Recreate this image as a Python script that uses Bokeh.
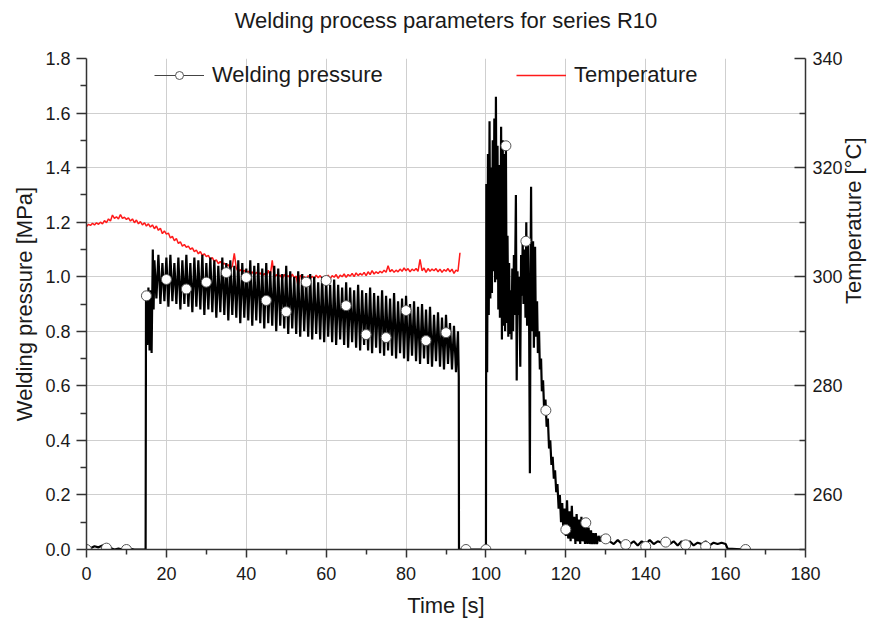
import math
from bokeh.plotting import figure
from bokeh.models import Range1d, LinearAxis, FixedTicker, Legend, LegendItem, NumeralTickFormatter, Title
from bokeh.embed import file_html
from bokeh.resources import INLINE

# ---------------- data ----------------
# Welding pressure [MPa]: start of trace (before clamping)
pre_t = [0, 1, 2, 3, 4, 5, 6, 7, 8, 9, 10, 11, 12, 13, 14, 14.8,
         14.9, 15.2, 15.5, 15.8, 16.1, 16.3, 16.6, 16.8]
pre_v = [0.0, 0.005, 0.012, 0.008, 0.015, 0.01, 0.005, 0.0, 0.003, 0.0, 0.0, 0.002, 0.0, 0.0, 0.0, 0.0,
         0.93, 0.75, 0.96, 0.73, 0.95, 0.72, 1.10, 0.88]

# oscillating band during welding: upper / lower swing every second (17..92 s)
band_t = list(range(17, 93))
band_hi = [1.06, 1.08, 1.05, 1.07, 1.08, 1.05, 1.07, 1.06, 1.08, 1.05, 1.07, 1.06, 1.08, 1.05, 1.07, 1.06,
           1.04, 1.07, 1.05, 1.06, 1.04, 1.06, 1.05, 1.03, 1.06, 1.04, 1.05, 1.03, 1.05, 1.02, 1.04, 1.03,
           1.01, 1.04, 1.02, 1.00, 1.02, 1.01, 0.99, 1.01, 1.00, 0.98, 1.00, 0.99, 0.97, 0.99, 0.97, 0.96,
           0.98, 0.96, 0.95, 0.97, 0.95, 0.94, 0.96, 0.94, 0.93, 0.95, 0.93, 0.92, 0.94, 0.91, 0.92, 0.93,
           0.90, 0.91, 0.89, 0.90, 0.88, 0.89, 0.86, 0.87, 0.85, 0.86, 0.83, 0.82]
band_lo = [0.92, 0.90, 0.91, 0.89, 0.91, 0.90, 0.88, 0.90, 0.89, 0.87, 0.89, 0.88, 0.86, 0.88, 0.87, 0.85,
           0.87, 0.86, 0.84, 0.86, 0.85, 0.83, 0.85, 0.84, 0.82, 0.84, 0.83, 0.81, 0.83, 0.82, 0.80, 0.82,
           0.81, 0.79, 0.81, 0.79, 0.78, 0.80, 0.78, 0.77, 0.79, 0.77, 0.76, 0.78, 0.76, 0.75, 0.77, 0.75,
           0.74, 0.76, 0.74, 0.73, 0.75, 0.73, 0.72, 0.74, 0.72, 0.71, 0.73, 0.71, 0.70, 0.72, 0.70, 0.69,
           0.71, 0.69, 0.68, 0.70, 0.68, 0.67, 0.69, 0.67, 0.66, 0.68, 0.66, 0.65]

# release, pause, and second (forging / cooling) phase
post_t = [93.0, 93.2, 93.25, 95, 99.9,
          100.0, 100.1, 100.3, 100.5, 100.7, 100.9, 101.1, 101.3, 101.5, 101.7, 101.9, 102.1, 102.3, 102.5,
          102.7, 102.9, 103.1, 103.3, 103.5, 103.8, 104.0, 104.2, 104.4, 104.6, 104.8, 105.0, 105.2, 105.4,
          105.6, 105.8, 106.0, 106.2, 106.4, 106.6, 106.8, 107.0, 107.2, 107.5, 107.7, 107.9, 108.1, 108.3,
          108.6, 108.8, 109.0, 109.2, 109.4, 109.7, 109.9, 110.1, 110.3, 110.5, 110.8, 111.0, 111.2, 111.3,
          111.5, 111.8, 112.0, 112.3, 112.5, 112.8, 113.0, 113.3, 113.5, 113.8, 114.0, 114.3, 114.6, 114.9,
          115.2, 115.5, 115.8, 116.1, 116.4, 116.7, 117.0, 117.3, 117.6, 117.9, 118.2, 118.5, 118.8, 119.1,
          119.4, 119.7, 120.0, 120.3, 120.6, 120.9, 121.2, 121.5, 121.8, 122.1, 122.4, 122.7, 123.0, 123.3,
          123.6, 123.9, 124.2, 124.5, 124.8, 125.1, 125.4, 125.7, 126.0, 126.3, 126.6, 126.9, 127.2, 127.5,
          127.8, 128.2, 128.6, 129.0, 129.5, 130.0, 131, 132, 133, 134, 135, 136, 137, 138, 139, 140, 141,
          142, 143, 144, 145, 146, 147, 148, 149, 150, 151, 152, 153, 154, 155, 156, 157, 158, 159, 160,
          160.5, 165]
post_v = [0.80, 0.63, 0.0, 0.0, 0.0,
          0.00, 1.34, 0.65, 1.45, 0.86, 1.57, 0.92, 1.40, 0.94, 1.50, 1.02, 1.58, 0.98, 1.66,
          0.99, 1.48, 0.88, 1.41, 0.85, 1.55, 0.77, 1.50, 0.82, 1.45, 0.80, 1.48, 0.83, 1.15,
          0.78, 1.05, 0.79, 0.95, 0.77, 1.03, 0.80, 1.08, 0.86, 1.30, 0.62, 1.02, 0.86, 1.00,
          0.67, 1.08, 0.93, 1.13, 0.90, 1.10, 0.85, 1.20, 0.82, 1.13, 0.85, 0.28, 1.10, 1.33,
          0.80, 1.13, 0.74, 1.11, 0.78, 0.91, 0.72, 0.80, 0.66, 0.70, 0.58, 0.62, 0.50, 0.55,
          0.45, 0.48, 0.37, 0.40, 0.31, 0.34, 0.26, 0.29, 0.21, 0.24, 0.15, 0.20, 0.10, 0.17,
          0.06, 0.15, 0.05, 0.18, 0.04, 0.14, 0.03, 0.16, 0.04, 0.12, 0.02, 0.13, 0.03, 0.11,
          0.02, 0.12, 0.03, 0.10, 0.02, 0.09, 0.02, 0.08, 0.02, 0.07, 0.02, 0.06, 0.02, 0.06,
          0.02, 0.05, 0.03, 0.05, 0.03, 0.04, 0.03, 0.02, 0.035, 0.02, 0.025, 0.02, 0.03, 0.015, 0.03, 0.02, 0.035,
          0.02, 0.03, 0.025, 0.035, 0.02, 0.03, 0.015, 0.03, 0.02, 0.03, 0.015, 0.025, 0.02, 0.03, 0.015, 0.025, 0.02, 0.025, 0.02,
          0.003, 0.0]

# sampled pressure markers (every 5 s)
mark_t = [0, 5, 10, 15, 20, 25, 30, 35, 40, 45, 50, 55, 60, 65, 70, 75, 80, 85, 90, 95, 100,
          105, 110, 115, 120, 125, 130, 135, 140, 145, 150, 155, 165]
mark_v = [0.0, 0.005, 0.0, 0.93, 0.99, 0.955, 0.98, 1.015, 0.997, 0.913, 0.872, 0.98, 0.986, 0.894,
          0.788, 0.777, 0.876, 0.766, 0.795, 0.0, 0.0, 1.48, 1.13, 0.51, 0.073, 0.098, 0.039, 0.018,
          0.011, 0.027, 0.017, 0.011, 0.0]

# Temperature [°C], one reading every 0.5 s from 0 to 93.5 s
temp_v = [309.2, 309.6, 309.4, 309.8, 309.5, 309.9, 309.6, 310.0, 309.7, 310.3, 309.9,
          310.6, 310.2, 311.3, 310.7, 311.0, 310.6, 311.4, 310.7, 310.9, 310.5,
          310.8, 310.2, 310.6, 309.9, 310.4, 309.7, 310.1, 309.5, 309.9, 309.3,
          309.7, 309.1, 309.5, 308.8, 309.3, 308.5, 308.9, 307.9, 308.4, 307.8,
          308.0, 307.1, 307.4, 306.6, 307.0, 306.1, 306.4, 305.6, 305.9, 305.4,
          305.6, 305.0, 305.3, 304.6, 304.9, 304.2, 304.6, 303.9, 304.2, 303.7,
          303.9, 303.2, 303.5, 302.8, 303.1, 302.4, 302.8, 302.2, 302.5, 302.0,
          302.2, 301.5, 301.9, 304.3, 301.6, 300.9, 301.3, 300.8, 301.2, 300.6,
          301.0, 300.5, 300.9, 300.3, 300.8, 300.4, 300.7, 300.1, 300.6, 300.0,
          301.2, 300.2, 303.0, 299.8, 300.4, 300.0, 300.3, 299.6, 300.4, 299.9,
          300.2, 299.7, 300.5, 299.8, 300.1, 298.2, 300.3, 299.8, 300.0, 299.4,
          300.2, 299.7, 300.1, 299.6, 300.3, 299.8, 300.2, 299.6, 300.1, 299.7,
          300.3, 299.6, 300.2, 299.9, 300.4, 299.7, 300.3, 300.0, 300.5, 299.9,
          300.4, 300.1, 300.6, 300.0, 300.7, 300.2, 300.6, 300.3, 300.8, 300.2,
          300.9, 300.4, 301.1, 300.5, 300.9, 300.6, 301.0, 300.7, 301.2, 300.8,
          302.0, 300.9, 301.3, 300.8, 301.2, 300.9, 301.4, 301.0, 301.6, 301.1,
          301.5, 300.9, 301.4, 301.1, 301.5, 301.0, 303.2, 301.1, 301.6, 300.8,
          301.5, 301.0, 301.4, 301.1, 301.5, 300.9, 301.4, 300.8, 301.3, 301.0,
          301.5, 300.9, 301.4, 300.6, 301.2, 301.0, 304.4]
temp_t = [0.5 * i for i in range(len(temp_v))]

x_ticks = [0, 20, 40, 60, 80, 100, 120, 140, 160, 180]
x_minor = [10, 30, 50, 70, 90, 110, 130, 150, 170]
yl_ticks = [0.0, 0.2, 0.4, 0.6, 0.8, 1.0, 1.2, 1.4, 1.6, 1.8]
yl_minor = [0.1, 0.3, 0.5, 0.7, 0.9, 1.1, 1.3, 1.5, 1.7]
yr_ticks = [260, 280, 300, 320, 340]
yr_minor = [250, 270, 290, 310, 330]

TITLE = "Welding process parameters for series R10"

# build pressure trace from the read values
px = list(pre_t)
py = list(pre_v)
for t, hi, lo in zip(band_t, band_hi, band_lo):
    px += [t, t + 0.5]
    py += [hi, lo]
px += post_t
py += post_v

# ---------------- figure ----------------
FONT = "Liberation Sans"
TXT = "#1a1a1a"

p = figure(width=881, height=620, output_backend="svg", toolbar_location=None,
           x_range=Range1d(0, 180), y_range=Range1d(0, 1.8),
           min_border_left=86, min_border_right=71, min_border_top=58, min_border_bottom=71,
           title=TITLE)
p.outline_line_color = None
p.background_fill_color = "white"
p.title.align = "center"
p.title.vertical_align = "bottom"
p.title.text_font = FONT
p.title.text_font_size = "22px"
p.title.text_font_style = "normal"
p.title.text_color = TXT
p.title.standoff = 10

# empty spacer between the title and the plot frame (lifts the title up)
spacer = Title(text=" ", text_font_size="1px", standoff=18)
p.add_layout(spacer, "above")

p.extra_y_ranges = {"temp": Range1d(250, 340)}

# grid
p.xgrid.ticker = FixedTicker(ticks=x_ticks)
p.ygrid.ticker = FixedTicker(ticks=yl_ticks)
for g in (p.xgrid, p.ygrid):
    g.grid_line_color = "#cfcfcf"
    g.grid_line_width = 1

# axes
xa = p.xaxis[0]
xa.ticker = FixedTicker(ticks=x_ticks, minor_ticks=x_minor)
xa.axis_label = "Time [s]"
ya = p.yaxis[0]
ya.ticker = FixedTicker(ticks=yl_ticks, minor_ticks=yl_minor)
ya.formatter = NumeralTickFormatter(format="0.0")
ya.axis_label = "Welding pressure [MPa]"

ra = LinearAxis(y_range_name="temp", axis_label="Temperature [°C]",
                ticker=FixedTicker(ticks=yr_ticks, minor_ticks=yr_minor))
p.add_layout(ra, "right")

for ax in (xa, ya, ra):
    ax.axis_line_color = "#333333"
    ax.axis_line_width = 1.5
    ax.major_tick_line_color = "#333333"
    ax.minor_tick_line_color = "#333333"
    ax.major_tick_line_width = 1.5
    ax.minor_tick_line_width = 1.5
    ax.major_label_text_font = FONT
    ax.major_label_text_font_size = "18px"
    ax.major_label_text_color = TXT
    ax.axis_label_text_font = FONT
    ax.axis_label_text_font_size = "22px"
    ax.axis_label_text_font_style = "normal"
    ax.axis_label_text_color = TXT

xa.major_tick_in = 0
xa.major_tick_out = 8
xa.minor_tick_in = 0
xa.minor_tick_out = 5
xa.major_label_standoff = 9
xa.axis_label_standoff = 10

ya.major_tick_in = 0
ya.major_tick_out = 10
ya.minor_tick_in = 0
ya.minor_tick_out = 6
ya.major_label_standoff = 6
ya.axis_label_standoff = 5

ra.major_tick_in = 11
ra.major_tick_out = 0
ra.minor_tick_in = 6
ra.minor_tick_out = 0
ra.major_label_standoff = 7
ra.axis_label_standoff = 8
ra.axis_label_orientation = math.pi / 2

# glyphs
r_temp = p.line(temp_t, temp_v, y_range_name="temp", line_color="#ff1a1a", line_width=1.5)
r_p = p.line(px, py, line_color="black", line_width=2.2)
r_m = p.scatter(mark_t, mark_v, marker="circle", size=10, fill_color="white",
                line_color="#555555", line_width=1)

# thin line style for the legend key (a single sample: draws nothing in the plot)
lg_p_line = p.line(px[:1], py[:1], line_color="#444444", line_width=1)

leg1 = Legend(items=[LegendItem(label="Welding pressure", renderers=[lg_p_line, r_m])],
              location=(68, 461))
leg2 = Legend(items=[LegendItem(label="Temperature", renderers=[r_temp])],
              location=(430, 461))
for lg in (leg1, leg2):
    lg.background_fill_alpha = 0
    lg.border_line_color = None
    lg.label_text_font = FONT
    lg.label_text_font_size = "22px"
    lg.label_text_color = TXT
    lg.glyph_width = 50
    lg.label_standoff = 8
    lg.padding = 0
    lg.margin = 0
    p.add_layout(lg)

open("out.html", "w").write(file_html(p, INLINE))
